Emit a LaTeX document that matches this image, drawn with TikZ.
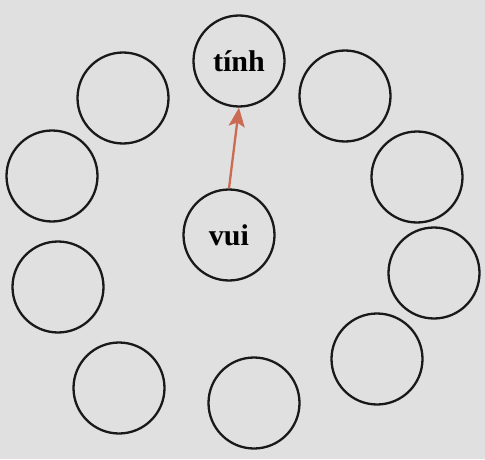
\documentclass[tikz,border=0pt]{standalone}
\usepackage{fontspec}
\setmainfont{Liberation Serif}
\usetikzlibrary{arrows.meta}
\definecolor{paper}{HTML}{DFE0DF}
\definecolor{arrowred}{HTML}{CC6B53}
\begin{document}
\begin{tikzpicture}[x=1pt,y=1pt,
  bubble/.style={circle,draw=black!90,line width=2.3pt,minimum size=91pt,inner sep=0pt,
    font=\fontsize{30}{30}\selectfont\bfseries},
  link/.style={draw=arrowred,line width=2.3pt,-{Stealth[length=19pt,width=16pt,inset=4pt]}}]
\fill[paper] (0,0) rectangle (485,459);
\useasboundingbox (0,0) rectangle (485,459);
\node[bubble] (tinh) at (239,398) {tính};
\node[bubble] (tl) at (123,361) {};
\node[bubble] (lu) at (52,283) {};
\node[bubble] (tr) at (345,363) {};
\node[bubble] (ru) at (417,282) {};
\node[bubble] (vui) at (229,224) {vui};
\node[bubble] (ll) at (58,172) {};
\node[bubble] (rl) at (434,186) {};
\node[bubble] (br) at (377,100) {};
\node[bubble] (bl) at (119,71) {};
\node[bubble] (bc) at (254,56) {};
\draw[link] (vui.north) -- (tinh.south);
\end{tikzpicture}
\end{document}
